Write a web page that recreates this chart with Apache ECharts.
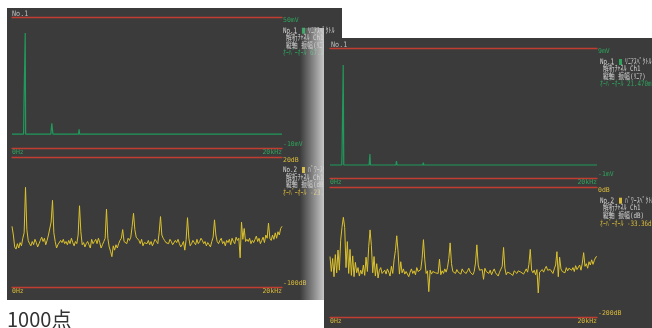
<!DOCTYPE html>
<html>
<head>
<meta charset="utf-8">
<script src="https://cdn.jsdelivr.net/npm/echarts@6/dist/echarts.min.js"></script>
<style>
  html, body { margin: 0; padding: 0; background: #fff; }
  #chart { width: 652px; height: 328px; }
</style>
</head>
<body>
<div id="chart"></div>
<script>
// frequency axis, shared by all four plots
const freqTicks = [0, 20000];
const freqLabels = ['0Hz', '20kHz'];
const powStep = 100; // Hz between points of the dB traces

// screen A (left, behind)
const linRangeA = [-10, 50];
const linLabelsA = ['-10mV', '50mV'];
const linA = [
  [0, -3.6], [860, -3.6], [880, 7.4], [960, 7.4], [980, 42.7], [1010, -3.6],
  [2880, -3.6], [2920, -0.5], [2950, 1.3], [2990, -1.2], [3030, -3.6],
  [4930, -3.6], [4970, -1.4], [5010, -3.6],
  [6940, -3.6], [6970, -2.9], [7000, -3.6],
  [8950, -3.6], [8980, -3.2], [9010, -3.6], [20000, -3.6]
];
const powRangeA = [-100, 20];
const powLabelsA = ['-100dB', '20dB'];
const powA = [
  -44, -52, -63, -65, -60, -64, -59, -62, -55, -50,
  -8, -47, -57, -60, -62, -58, -61, -56, -59, -63,
  -60, -57, -54, -58, -55, -61, -57, -52, -53, -40,
  -20, -50, -58, -64, -61, -60, -57, -59, -56, -60,
  -58, -61, -57, -60, -55, -59, -62, -58, -60, -52,
  -25, -49, -61, -59, -63, -60, -58, -61, -64, -56,
  -60, -58, -56, -60, -55, -59, -64, -61, -58, -55,
  -28, -55, -63, -67, -72, -62, -66, -61, -64, -60,
  -57, -55, -47, -58, -57, -60, -55, -57, -54, -44,
  -32, -47, -54, -55, -57, -60, -56, -62, -59, -58,
  -60, -57, -61, -58, -62, -59, -56, -58, -60, -50,
  -35, -52, -55, -57, -59, -58, -60, -56, -58, -61,
  -62, -57, -59, -56, -60, -63, -61, -58, -66, -56,
  -36, -55, -62, -60, -57, -59, -61, -56, -60, -58,
  -55, -57, -60, -58, -62, -59, -61, -63, -58, -54,
  -38, -52, -58, -60, -57, -55, -60, -58, -62, -57,
  -59, -56, -61, -55, -58, -60, -54, -57, -55, -73,
  -40, -56, -46, -58, -56, -58, -55, -60, -57, -59,
  -56, -53, -58, -55, -60, -57, -54, -59, -52, -55,
  -41, -55, -57, -52, -56, -50, -55, -49, -52, -46,
  -44
];

// screen B (right, in front)
const linRangeB = [-1, 9];
const linLabelsB = ['-1mV', '9mV'];
const linB = [
  [0, 0], [880, 0], [900, 0.77], [960, 0.77], [990, 7.7], [1030, 0],
  [2930, 0], [2960, 0.4], [2990, 0.85], [3030, 0],
  [4940, 0], [4980, 0.3], [5020, 0],
  [6950, 0], [6990, 0.18], [7030, 0],
  [8960, 0], [9000, 0.13], [9040, 0],
  [10960, 0], [11000, 0.06], [11040, 0], [20000, 0]
];
const powRangeB = [-200, 0];
const powLabelsB = ['-200dB', '0dB'];
const powB = [
  -107, -130, -110, -138, -104, -132, -97, -128, -82, -62,
  -46.6, -62, -124, -84, -133, -96, -136, -106, -138, -116,
  -132, -124, -137, -128, -134, -120, -136, -108, -130, -92,
  -66, -90, -132, -107, -137, -118, -140, -128, -124, -133,
  -130, -128, -134, -126, -131, -137, -122, -133, -112, -98,
  -75, -100, -134, -115, -132, -126, -134, -130, -128, -138,
  -131, -126, -133, -129, -135, -124, -130, -128, -127, -110,
  -81, -112, -133, -129, -161, -128, -134, -130, -127, -132,
  -129, -133, -111, -135, -129, -133, -126, -131, -124, -110,
  -86, -118, -130, -128, -133, -127, -131, -129, -134, -126,
  -130, -127, -133, -129, -125, -131, -128, -135, -130, -117,
  -89, -120, -128, -131, -127, -142, -125, -130, -129, -133,
  -128, -135, -130, -126, -132, -129, -137, -131, -128, -122,
  -93, -125, -135, -131, -128, -133, -130, -136, -129, -131,
  -133, -129, -126, -131, -128, -134, -130, -126, -131, -119,
  -96, -128, -132, -128, -135, -127, -163, -131, -129, -127,
  -131, -126, -122, -128, -131, -127, -125, -133, -126, -120,
  -99.5, -138, -108, -126, -130, -127, -132, -124, -129, -125,
  -122, -128, -124, -130, -121, -127, -125, -120, -128, -117,
  -101, -122, -118, -125, -115, -120, -112, -119, -113, -108,
  -107
];

const MONO = '"DejaVu Sans Mono", "Noto Sans CJK JP", monospace';
const RED = '#c23d31';
const GREEN = '#1f9a5c';
const GREEN_TXT = '#2ea35c';
const YELLOW = '#dcc22c';
const YELLOW_TXT = '#d8b93a';
const TXT = '#d2d2d2';
const BG = '#3b3b3b';

const chart = echarts.init(document.getElementById('chart'));

const plots = [
  { grid: { left: 12, top: 17, width: 270, height: 131 }, range: linRangeA, labels: linLabelsA, data: linA, color: GREEN, txt: GREEN_TXT, z: 3, width: 1.2 },
  { grid: { left: 12, top: 157, width: 270, height: 130 }, range: powRangeA, labels: powLabelsA, data: powA.map((v, i) => [i * powStep, v]), color: YELLOW, txt: YELLOW_TXT, z: 3, width: 1 },
  { grid: { left: 330, top: 48, width: 267, height: 130 }, range: linRangeB, labels: linLabelsB, data: linB, color: GREEN, txt: GREEN_TXT, z: 6, width: 1.2 },
  { grid: { left: 330, top: 187, width: 267, height: 130 }, range: powRangeB, labels: powLabelsB, data: powB.map((v, i) => [i * powStep, v]), color: YELLOW, txt: YELLOW_TXT, z: 6, width: 1 }
];

const xAxes = [];
const yAxes = [];
const series = [];
plots.forEach((p, i) => {
  xAxes.push({
    gridIndex: i, type: 'value', min: freqTicks[0], max: freqTicks[1], interval: freqTicks[1] - freqTicks[0], z: p.z,
    axisLine: { onZero: false, lineStyle: { color: RED, width: 1.3 } },
    axisTick: { show: false }, splitLine: { show: false },
    axisLabel: {
      margin: 1, fontSize: 6.5, fontFamily: MONO, color: p.txt,
      alignMinLabel: 'left', alignMaxLabel: 'right',
      formatter: v => v === freqTicks[0] ? freqLabels[0] : (v === freqTicks[1] ? freqLabels[1] : '')
    }
  });
  xAxes.push({
    gridIndex: i, type: 'value', position: 'top', min: freqTicks[0], max: freqTicks[1], z: p.z,
    axisLine: { onZero: false, lineStyle: { color: RED, width: 1.3 } },
    axisTick: { show: false }, splitLine: { show: false }, axisLabel: { show: false }
  });
  yAxes.push({
    gridIndex: i, type: 'value', position: 'right', min: p.range[0], max: p.range[1],
    interval: p.range[1] - p.range[0], z: p.z,
    axisLine: { show: false }, axisTick: { show: false }, splitLine: { show: false },
    axisLabel: {
      margin: 1, fontSize: 6.5, fontFamily: MONO, color: p.txt, align: 'left',
      verticalAlignMinLabel: 'bottom', verticalAlignMaxLabel: 'top',
      formatter: v => v === p.range[0] ? p.labels[0] : (v === p.range[1] ? p.labels[1] : '')
    }
  });
  series.push({
    type: 'line', xAxisIndex: i * 2, yAxisIndex: i, data: p.data, z: p.z,
    symbol: 'none', sampling: null, animation: false,
    lineStyle: { color: p.color, width: p.width }
  });
});

// condensed side text, like the analyser's bitmap font
function txt(x, y, text, color, z, size, sx) {
  return {
    type: 'text', z: z, silent: true, x: x, y: y, scaleX: sx || 0.78,
    style: {
      x: 0, y: 0, text: text, fill: color,
      font: (size || 7.5) + 'px ' + MONO,
      textAlign: 'left', textVerticalAlign: 'middle', align: 'left', verticalAlign: 'middle'
    }
  };
}

function sideBlock(x, ys, no, kind, axisName, overall, color, z) {
  return [
    txt(x, ys[0], no, TXT, z),
    { type: 'rect', z: z, silent: true, shape: { x: x + 19, y: ys[0] - 3, width: 3, height: 6 }, style: { fill: color } },
    txt(x + 25, ys[0], kind, TXT, z),
    txt(x + 3, ys[1], '解析ﾁｬﾈﾙ Ch1', TXT, z),
    txt(x + 3, ys[2], axisName, TXT, z),
    txt(x, ys[3], overall, color, z)
  ];
}

const graphics = [
  // screen A body
  { type: 'rect', z: 1, silent: true, shape: { x: 7, y: 8, width: 335, height: 292 }, style: { fill: BG } },
  txt(12, 14, 'No.1', '#bdbdbd', 2, 7.5, 0.9),
  ...sideBlock(283, [30.7, 38.3, 45.7, 53.3], 'No.1', 'ﾘﾆｱｽﾍﾟｸﾄﾙ', '縦軸 振幅(ﾘﾆｱ)', 'ｵｰﾊﾞｰｵｰﾙ 67.23mV', GREEN_TXT, 2),
  ...sideBlock(283, [170, 177.7, 185.3, 193], 'No.2', 'ﾊﾟﾜｰｽﾍﾟｸﾄﾙ', '縦軸 振幅(dB)', 'ｵｰﾊﾞｰｵｰﾙ -23.41dB', YELLOW_TXT, 2),
  // shading where the front screen overlaps
  {
    type: 'rect', z: 4, silent: true, shape: { x: 300, y: 28, width: 24, height: 272 },
    style: { fill: new echarts.graphic.LinearGradient(0, 0, 1, 0, [
      { offset: 0, color: 'rgba(205,205,205,0)' },
      { offset: 1, color: 'rgba(215,215,215,0.9)' }
    ]) }
  },
  // screen B body
  { type: 'rect', z: 5, silent: true, shape: { x: 324, y: 38, width: 328, height: 290 }, style: { fill: BG } },
  txt(331, 45, 'No.1', '#bdbdbd', 7, 7.5, 0.9),
  ...sideBlock(600, [62, 69.5, 77, 84.5], 'No.1', 'ﾘﾆｱｽﾍﾟｸﾄﾙ', '縦軸 振幅(ﾘﾆｱ)', 'ｵｰﾊﾞｰｵｰﾙ 21.470mV', GREEN_TXT, 7),
  ...sideBlock(600, [200.7, 208.5, 216.5, 224], 'No.2', 'ﾊﾟﾜｰｽﾍﾟｸﾄﾙ', '縦軸 振幅(dB)', 'ｵｰﾊﾞｰｵｰﾙ -33.36dB', YELLOW_TXT, 7),
  // caption
  {
    type: 'text', z: 7, silent: true,
    style: { x: 7, y: 319, text: '1000点', fill: '#333', font: '20px "Noto Sans CJK JP", sans-serif', textVerticalAlign: 'middle', verticalAlign: 'middle' }
  }
];

chart.setOption({
  animation: false,
  backgroundColor: '#fff',
  grid: plots.map(p => Object.assign({ containLabel: false }, p.grid)),
  xAxis: xAxes,
  yAxis: yAxes,
  series: series,
  graphic: graphics
});
</script>
</body>
</html>
